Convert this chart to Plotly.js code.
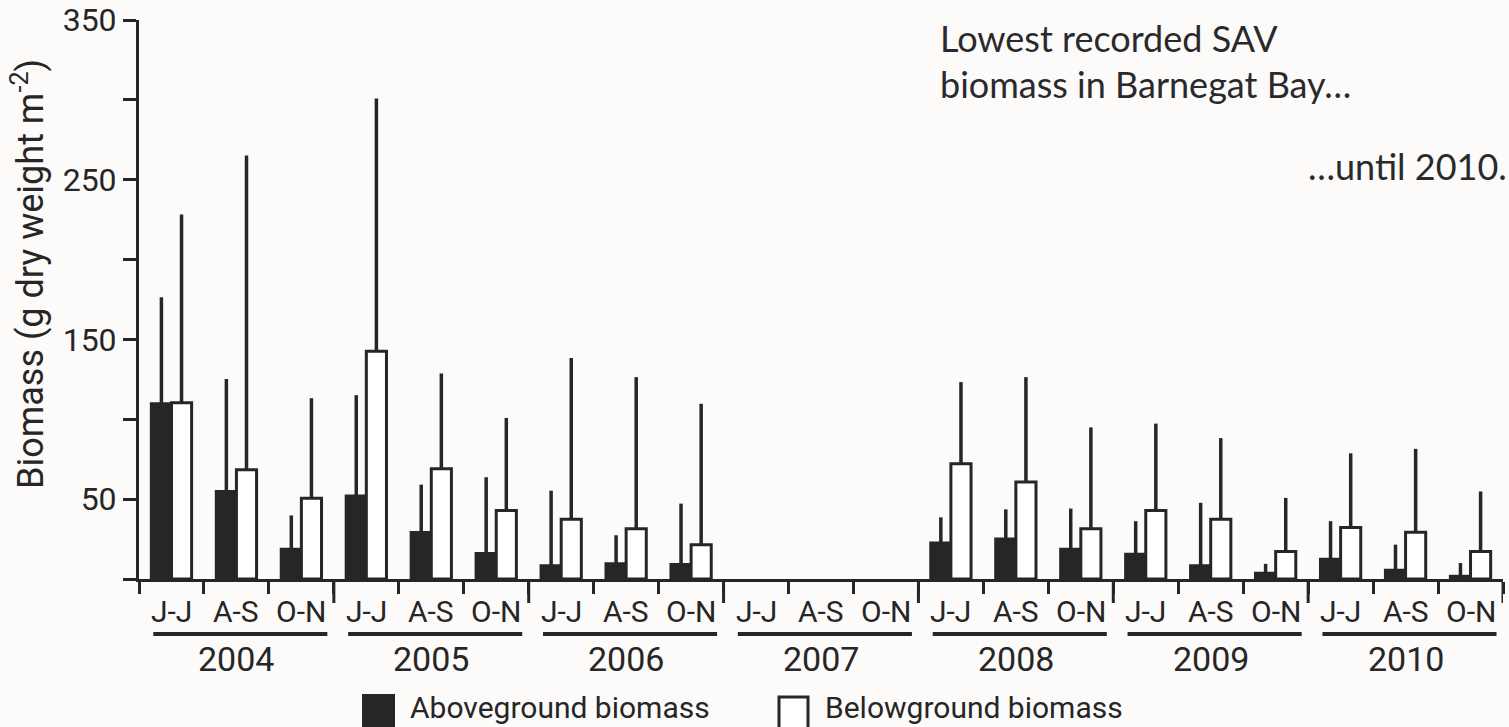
<!DOCTYPE html>
<html>
<head>
<meta charset="utf-8">
<script src="https://cdn.plot.ly/plotly-3.0.1.min.js"></script>
<style>
  html, body { margin: 0; padding: 0; background: #fdfafa; }
  #chart { width: 1509px; height: 727px; }
</style>
</head>
<body>
<div id="chart"></div>
<script>
// ---- data ----
const years = ["2004", "2005", "2006", "2007", "2008", "2009", "2010"];
const periods = ["J-J", "A-S", "O-N"];

// Aboveground biomass means (g dry weight m-2), one per period, 2004..2010
const aboveMean = [109.7, 54.8, 18.6,  52.0, 29.1, 16.0,  8.3, 9.5, 9.1,  0, 0, 0,  22.6, 25.0, 18.6,  15.5, 8.3, 3.6,  12.4, 5.5, 1.7];
// Aboveground upper error (length of whisker above the mean)
const aboveErr  = [66.7, 70.4, 21.2,  63.1, 30.0, 47.7,  47.0, 17.9, 38.1,  0, 0, 0,  16.0, 18.6, 25.5,  20.7, 39.4, 5.9,  23.8, 16.0, 8.3];
// Belowground biomass means
const belowMean = [110.4, 68.4, 50.5,  142.6, 69.1, 42.9,  37.4, 31.5, 21.5,  0, 0, 0,  72.2, 60.8, 31.5,  42.9, 37.4, 17.2,  32.2, 29.3, 17.2];
// Belowground upper error
const belowErr  = [117.8, 196.7, 62.7,  158.3, 59.6, 57.9,  100.9, 94.9, 88.2,  0, 0, 0,  51.1, 65.6, 63.4,  54.4, 50.8, 33.6,  46.5, 52.2, 37.6];

const yTickVals = [0, 50, 100, 150, 200, 250, 300, 350];
const yTickText = ["", "50", "", "150", "", "250", "", "350"];

const seriesNames = ["Aboveground biomass", "Belowground biomass"];
const noteLine1 = "Lowest recorded SAV";
const noteLine2 = "biomass in Barnegat Bay\u2026";
const noteLine3 = "\u2026until 2010.";
const yTitle = "Biomass (g dry weight m<sup>-2</sup>)";

// ---- build ----
const INK = "#262626";
const BG = "#fdfafa";
const nCat = years.length * periods.length;
const xIdx = [];
for (let i = 0; i < nCat; i++) xIdx.push(i);
const zeros = xIdx.map(() => 0);
const outline = (vals) => vals.map(v => (v > 0 ? 3 : 0));

const traces = [
  {
    type: "bar", x: xIdx, y: aboveMean, name: seriesNames[0], showlegend: false,
    marker: { color: INK, line: { color: INK, width: outline(aboveMean) } },
    error_y: { type: "data", symmetric: false, array: aboveErr, arrayminus: zeros,
               width: 0, thickness: 3.5, color: INK },
    hoverinfo: "skip"
  },
  {
    type: "bar", x: xIdx, y: belowMean, name: seriesNames[1], showlegend: false,
    marker: { color: "#ffffff", line: { color: INK, width: outline(belowMean) } },
    error_y: { type: "data", symmetric: false, array: belowErr, arrayminus: zeros,
               width: 0, thickness: 3.5, color: INK },
    hoverinfo: "skip"
  }
];

const W = 1509, H = 727;
const mL = 139, mR = 6, mT = 20, mB = 148;
const plotW = W - mL - mR, plotH = H - mT - mB;
const px2py = (py) => ((H - mB) - py) / plotH;   // page y pixel -> paper y
const px2px = (px) => (px - mL) / plotW;         // page x pixel -> paper x

const boundaryTicks = [];
for (let i = 0; i <= nCat; i++) boundaryTicks.push(i - 0.5);

const shapes = [];
const annotations = [];

// year-boundary long ticks
for (let g = 1; g <= years.length; g++) {
  const xb = g * periods.length - 0.5;
  shapes.push({ type: "line", xref: "x", yref: "paper", x0: xb, x1: xb,
    y0: 0, y1: px2py(H - mB + 24), line: { color: INK, width: 3 } });
}
// period labels
for (let i = 0; i < nCat; i++) {
  annotations.push({ xref: "x", yref: "paper", x: i, y: px2py(611), text: periods[i % periods.length],
    showarrow: false, xanchor: "center", yanchor: "middle",
    font: { family: "Roboto, sans-serif", size: 30, color: INK } });
}
// year underline + labels
years.forEach((yr, g) => {
  const s = g * periods.length;
  shapes.push({ type: "line", xref: "x", yref: "paper", x0: s - 0.28, x1: s + 2.4,
    y0: px2py(634), y1: px2py(634), line: { color: INK, width: 4 } });
  annotations.push({ xref: "x", yref: "paper", x: s + 1, y: px2py(659), text: yr,
    showarrow: false, xanchor: "center", yanchor: "middle",
    font: { family: "Roboto, sans-serif", size: 34, color: INK } });
});

// y-axis title (as rotated annotation so it can sit where the reference puts it)
annotations.push({ xref: "paper", yref: "paper", x: px2px(28), y: px2py(274), text: yTitle,
  textangle: -90, showarrow: false, xanchor: "center", yanchor: "middle",
  font: { family: "Roboto, sans-serif", size: 36, color: INK } });

// legend (custom, large swatches)
shapes.push({ type: "rect", xref: "paper", yref: "paper",
  x0: px2px(363), x1: px2px(394), y0: px2py(695), y1: px2py(730),
  fillcolor: INK, line: { color: INK, width: 2 } });
shapes.push({ type: "rect", xref: "paper", yref: "paper",
  x0: px2px(779), x1: px2px(808), y0: px2py(697), y1: px2py(730),
  fillcolor: "#ffffff", line: { color: INK, width: 3 } });
annotations.push({ xref: "paper", yref: "paper", x: px2px(408), y: px2py(707), text: seriesNames[0],
  showarrow: false, xanchor: "left", yanchor: "middle",
  font: { family: "Roboto, sans-serif", size: 30, color: INK } });
annotations.push({ xref: "paper", yref: "paper", x: px2px(823), y: px2py(707), text: seriesNames[1],
  showarrow: false, xanchor: "left", yanchor: "middle",
  font: { family: "Roboto, sans-serif", size: 30, color: INK } });

// notes
const noteFont = { family: "Lato, sans-serif", size: 36, color: "#2a2a2a" };
annotations.push({ xref: "paper", yref: "paper", x: px2px(938), y: px2py(38), text: noteLine1,
  showarrow: false, xanchor: "left", yanchor: "middle", font: noteFont });
annotations.push({ xref: "paper", yref: "paper", x: px2px(938), y: px2py(84), text: noteLine2,
  showarrow: false, xanchor: "left", yanchor: "middle", font: noteFont });
annotations.push({ xref: "paper", yref: "paper", x: px2px(1509), y: px2py(166), text: noteLine3,
  showarrow: false, xanchor: "right", yanchor: "middle", font: noteFont });

const layout = {
  width: W, height: H,
  margin: { l: mL, r: mR, t: mT, b: mB, pad: 0 },
  paper_bgcolor: BG, plot_bgcolor: BG,
  barmode: "group", bargap: 0.38, bargroupgap: 0,
  showlegend: false,
  xaxis: {
    range: [-0.5, nCat - 0.5], tickmode: "array", tickvals: boundaryTicks,
    ticks: "outside", ticklen: 12, tickwidth: 3, tickcolor: INK,
    showticklabels: false, showline: true, linecolor: INK, linewidth: 3,
    showgrid: false, zeroline: false, fixedrange: true
  },
  yaxis: {
    range: [0, 350], tickmode: "array", tickvals: yTickVals, ticktext: yTickText,
    ticks: "outside", ticklen: 13, tickwidth: 3, tickcolor: INK,
    showline: true, linecolor: INK, linewidth: 3,
    showgrid: false, zeroline: false, fixedrange: true,
    ticklabeloverflow: "allow",
    tickfont: { family: "Roboto, sans-serif", size: 32, color: INK },
    automargin: false
  },
  shapes: shapes,
  annotations: annotations
};

Plotly.newPlot("chart", traces, layout, { displayModeBar: false, staticPlot: true });
</script>
</body>
</html>
